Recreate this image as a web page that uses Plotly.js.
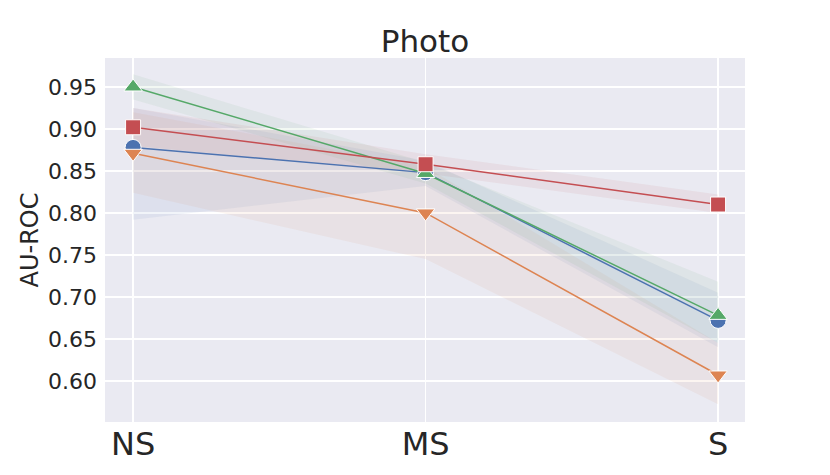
<!DOCTYPE html>
<html>
<head>
<meta charset="utf-8">
<script src="https://cdn.plot.ly/plotly-3.0.1.min.js"></script>
<style>html,body{margin:0;padding:0;background:#fff;}#chart{width:830px;height:475px;}</style>
</head>
<body>
<div id="chart"></div>
<script>
var categories = ["NS", "MS", "S"];
var seriesNames = ["A", "B", "C", "D"];
var blueMean = [0.878, 0.848, 0.672];
var blueLo = [0.792, 0.832, 0.640];
var blueHi = [0.925, 0.862, 0.705];
var orangeMean = [0.871, 0.800, 0.607];
var orangeLo = [0.824, 0.745, 0.572];
var orangeHi = [0.920, 0.855, 0.645];
var greenMean = [0.950, 0.847, 0.678];
var greenLo = [0.935, 0.835, 0.645];
var greenHi = [0.965, 0.860, 0.718];
var redMean = [0.902, 0.858, 0.810];
var redLo = [0.880, 0.847, 0.800];
var redHi = [0.925, 0.870, 0.822];
var yTicks = [0.60, 0.65, 0.70, 0.75, 0.80, 0.85, 0.90, 0.95];

var series = [
  {mean: blueMean, lo: blueLo, hi: blueHi, color: "#4C72B0", rgba: "rgba(76,114,176,0.08)", symbol: "circle", size: 16},
  {mean: orangeMean, lo: orangeLo, hi: orangeHi, color: "#DD8452", rgba: "rgba(221,132,82,0.08)", symbol: "triangle-down", size: 16},
  {mean: greenMean, lo: greenLo, hi: greenHi, color: "#55A868", rgba: "rgba(85,168,104,0.08)", symbol: "triangle-up", size: 16},
  {mean: redMean, lo: redLo, hi: redHi, color: "#C44E52", rgba: "rgba(196,78,82,0.08)", symbol: "square", size: 15}
];
var xs = categories.map(function(c, i){ return i; });
var traces = [];
series.forEach(function(s){
  traces.push({
    x: xs.concat(xs.slice().reverse()),
    y: s.hi.concat(s.lo.slice().reverse()),
    type: "scatter", mode: "lines", fill: "toself", fillcolor: s.rgba,
    line: {width: 0, color: "rgba(0,0,0,0)"}, hoverinfo: "skip", showlegend: false
  });
});
series.forEach(function(s, k){
  traces.push({
    x: xs, y: s.mean, type: "scatter", mode: "lines+markers", name: seriesNames[k],
    line: {color: s.color, width: 1.5},
    marker: {symbol: s.symbol, size: s.size, color: s.color, line: {color: "#ffffff", width: 1}},
    showlegend: false
  });
});
var layout = {
  width: 830, height: 475,
  margin: {l: 105, r: 85, t: 58, b: 53},
  paper_bgcolor: "#ffffff", plot_bgcolor: "#EAEAF2",
  font: {family: "DejaVu Sans", color: "#262626"},
  title: {text: "Photo", font: {size: 31, color: "#262626"}, xref: "paper", x: 0.5, xanchor: "center", y: 0.913, yanchor: "middle"},
  xaxis: {range: [-0.096, 2.092], tickvals: xs, ticktext: categories, showgrid: true, gridcolor: "#ffffff", gridwidth: 1.3,
          zeroline: false, showline: false, ticks: "", tickfont: {size: 32, color: "#262626"}, ticklabelstandoff: 0},
  yaxis: {range: [0.551, 0.9845], tickvals: yTicks, ticktext: yTicks.map(function(v){return v.toFixed(2);}),
          showgrid: true, gridcolor: "#ffffff", gridwidth: 1.3, zeroline: false, showline: false, ticks: "",
          tickfont: {size: 22, color: "#262626"}, ticklabelstandoff: 7,
          title: {text: "AU-ROC", font: {size: 24, color: "#262626"}, standoff: 2}}
};
Plotly.newPlot("chart", traces, layout, {displayModeBar: false, staticPlot: true});
</script>
</body>
</html>
